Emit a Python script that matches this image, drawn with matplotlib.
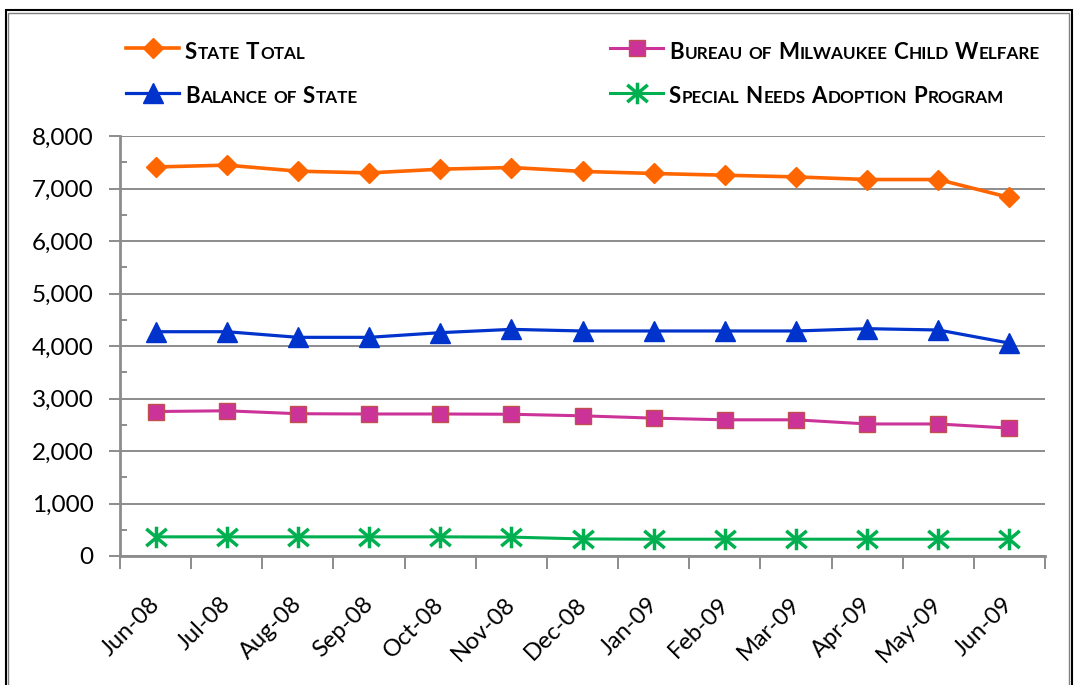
import matplotlib
matplotlib.use("Agg")
import matplotlib.pyplot as plt
from matplotlib.path import Path
from matplotlib.patches import Rectangle
from matplotlib.ticker import MultipleLocator, FuncFormatter
from matplotlib.transforms import ScaledTranslation
import numpy as np

# ---------------- data ----------------
months = ["Jun-08", "Jul-08", "Aug-08", "Sep-08", "Oct-08", "Nov-08", "Dec-08",
          "Jan-09", "Feb-09", "Mar-09", "Apr-09", "May-09", "Jun-09"]
state_total = [7410, 7445, 7330, 7297, 7368, 7400, 7325, 7286, 7253, 7221, 7171, 7171, 6829]
balance_of_state = [4272, 4272, 4165, 4165, 4254, 4317, 4286, 4286, 4286, 4286, 4330, 4305, 4055]
bmcw = [2752, 2766, 2710, 2705, 2705, 2700, 2670, 2626, 2594, 2594, 2515, 2515, 2436]
snap = [365, 365, 365, 365, 365, 360, 325, 320, 320, 320, 320, 320, 320]
series_labels = ["State Total", "Balance of State",
                 "Bureau of Milwaukee Child Welfare", "Special Needs Adoption Program"]

FONT = ["Lato", "DejaVu Sans"]
plt.rcParams["font.family"] = FONT

W, H = 1078, 685
fig = plt.figure(figsize=(W / 100, H / 100), dpi=100)
ax = fig.add_axes([120 / W, 1 - 556 / H, (1045 - 120) / W, (556 - 136) / H])

x = np.arange(len(months))

star = Path([(0, -1), (0, 1), (-0.95, -0.8), (0.95, 0.8), (-0.95, 0.8), (0.95, -0.8)],
            [Path.MOVETO, Path.LINETO] * 3)

l1, = ax.plot(x, state_total, color="#FF6600", lw=2.6, marker="D", ms=10.5,
              mfc="#FF6600", mec="#FF6600", mew=1, zorder=5)
l2, = ax.plot(x, balance_of_state, color="#0033CC", lw=2.3, marker="^", ms=14,
              mfc="#0033CC", mec="#0033CC", mew=1, zorder=5)
l3, = ax.plot(x, bmcw, color="#CC3399", lw=2.2, marker="s", ms=11,
              mfc="#CC3399", mec="#C0504D", mew=1, zorder=5)
l4, = ax.plot(x, snap, color="#00B050", lw=2.2, marker=star, ms=15.5,
              mfc="none", mec="#00B050", mew=2.5, zorder=5)

# ---------------- axes ----------------
GRID = "#8C8C8C"
ax.set_xlim(-0.5, len(months) - 0.5)
ax.set_ylim(0, 8000)
ax.set_yticks(np.arange(0, 8001, 1000))
ax.yaxis.set_minor_locator(MultipleLocator(500))
ax.yaxis.set_major_formatter(FuncFormatter(lambda v, p: f"{int(v):,}"))
ax.grid(axis="y", which="major", color=GRID, lw=1.4)
ax.set_axisbelow(True)

ax.set_xticks(x)
ax.set_xticklabels(months, rotation=45, ha="right", va="top", rotation_mode="anchor")
ax.set_xticks(np.arange(-0.5, len(months), 1), minor=True)

ax.tick_params(axis="y", which="major", direction="out", length=8, width=1.4,
               color=GRID, pad=11, labelsize=17.5, labelcolor="black")
ax.tick_params(axis="y", which="minor", direction="in", length=5, width=1.4, color=GRID)
ax.tick_params(axis="x", which="major", length=0, pad=27, labelsize=17, labelcolor="black")
ax.tick_params(axis="x", which="minor", direction="out", length=9, width=1.4, color=GRID)

shift = ScaledTranslation(-7 / 100, 0, fig.dpi_scale_trans)
for lab in ax.get_xticklabels():
    lab.set_transform(lab.get_transform() + shift)

for s in ["top", "right"]:
    ax.spines[s].set_visible(False)
for s in ["left", "bottom"]:
    ax.spines[s].set_color(GRID)
    ax.spines[s].set_linewidth(2.0)

# ---------------- legend ----------------
FS = 11
legend_pos = [(126, 49.5), (126, 94.5), (610, 49.5), (610, 94.5)]
text_pos = [(185, 59.3), (185, 103.3), (669, 59.3), (669, 103.3)]
for ln, (px, py) in zip([l1, l2, l3, l4], legend_pos):
    fig.legend([ln], [""], loc="center left", bbox_to_anchor=(px / W, 1 - py / H),
               bbox_transform=fig.transFigure, frameon=False, borderpad=0,
               borderaxespad=0, handlelength=53 / (FS * 100 / 72), handletextpad=0,
               fontsize=FS, numpoints=1)

renderer = fig.canvas.get_renderer()


def small_caps(x_px, y_px, label, big=16, small=12.3):
    xx = x_px
    for word in label.split(" "):
        segs = []
        for ch in word:
            up = ch.isupper()
            if segs and segs[-1][1] == up:
                segs[-1][0] += ch
            else:
                segs.append([ch, up])
        for s, up in segs:
            t = fig.text(xx / W, 1 - y_px / H, s.upper(), fontsize=big if up else small,
                         fontweight="bold", va="baseline", ha="left", color="black")
            bb = t.get_window_extent(renderer)
            xx += bb.width + 0.8
        xx += 5


for lab, (px, py) in zip(series_labels, text_pos):
    small_caps(px, py, lab)

# ---------------- border ----------------
fig.patches.append(Rectangle((5.8 / W, -0.05), (1071.5 - 5.8) / W, 1.05 - 10.3 / H,
                             transform=fig.transFigure, fill=False, ec="black", lw=1.5))
fig.patches.append(Rectangle((8.3 / W, -0.05), (1069 - 8.3) / W, 1.05 - 13 / H,
                             transform=fig.transFigure, fill=False, ec="#808080", lw=1.0))

fig.savefig("out.png", dpi=100)
